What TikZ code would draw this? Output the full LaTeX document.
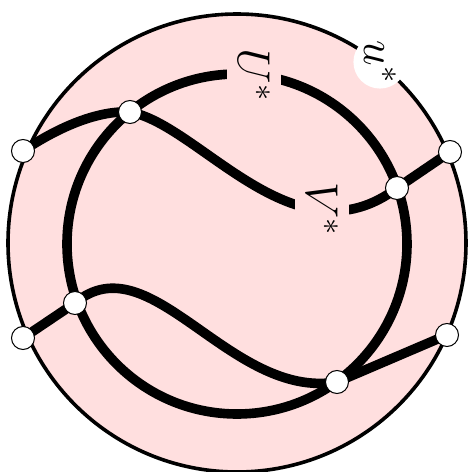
\RequirePackage{fix-cm}
\documentclass[tikz,border=0pt]{standalone}
\usepackage{amsmath}
\usepackage{tikz}
\usetikzlibrary{backgrounds}
\definecolor{blush}{HTML}{FFDFDF}
\tikzset{
  rim/.style={draw=black,fill=blush,line width=1.8pt},
  strand/.style={draw=black,line width=4.8pt},
  vtx/.style={circle,draw=black,fill=white,line width=0.5pt,minimum size=11.5pt,inner sep=0pt},
  lbl/.style={fill=blush,inner sep=5.5pt,rotate=-90,font=\fontsize{23}{27}\selectfont},
  tag/.style={circle,fill=white,minimum size=26pt,inner sep=0pt,rotate=-90,font=\fontsize{23}{27}\selectfont},
}

\begin{document}
\begin{tikzpicture}[x=0.5pt,y=0.5pt]
  \useasboundingbox (-237,-229) rectangle (233,243);
  \coordinate (c) at (0,0);
  \coordinate (ci) at (0,-1);
  % rim points
  \node[vtx] (b1) at (-214,92) {};
  \node[vtx] (b2) at (213,91) {};
  \node[vtx] (b3) at (-214,-95) {};
  \node[vtx] (b4) at (210,-92) {};
  % crossings on the inner circle
  \node[vtx] (n1) at (-107,131) {};
  \node[vtx] (n2) at (160,55) {};
  \node[vtx] (n3) at (-162,-60) {};
  \node[vtx] (n4) at (100,-139) {};
  % labels
  \node[lbl] (U) at (17,168) {$U^*$};
  \node[lbl] (V) at (85,34) {$V^*$};
  \node[tag] (u) at (143,181) {$u^*$};
  \begin{scope}[on background layer]
    \draw[rim] (c) circle (229);
    \draw[strand] (ci) circle (170);
    \draw[strand] (b1.center) .. controls +(22,15) and +(-40,2) .. (n1.center)
      .. controls +(70,-13) and +(-102,-77) .. (n2.center) -- (b2.center);
    \draw[strand] (b3.center) -- (n3.center)
      .. controls +(75,63) and +(-107,-18) .. (n4.center) -- (b4.center);
  \end{scope}
\end{tikzpicture}
\end{document}
